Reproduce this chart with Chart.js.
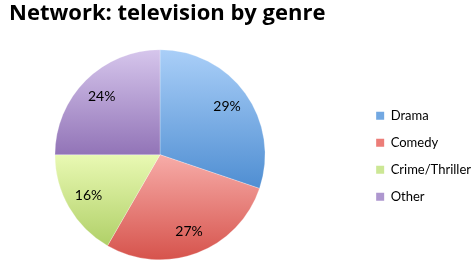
<!DOCTYPE html>
<html>
<head>
<meta charset="utf-8">
<script src="https://cdn.jsdelivr.net/npm/chart.js@4.4.1/dist/chart.umd.min.js"></script>
<style>
  html, body { margin: 0; padding: 0; background: #fff; }
  #wrap { width: 476px; height: 272px; position: relative; }
</style>
</head>
<body>
<div id="wrap"><canvas id="genreChart" width="476" height="272"></canvas></div>
<script>
// data
var genres = ['Drama', 'Comedy', 'Crime/Thriller', 'Other'];
var shares = [29, 27, 16, 24];
var lightColors = ['#aacff8', '#f7aca8', '#e9f9b3', '#d6c6ec'];
var darkColors = ['#4f8ed2', '#d6534c', '#b0d068', '#9274b7'];
var swatchColors = ['#72a8e2', '#ec7d78', '#cce795', '#ae97cf'];

var FONT = 'Lato, "Liberation Sans", sans-serif';

// vertical gradient for each slice, from the top to the bottom of the slice
function sliceGradient(ctx) {
    var chart = ctx.chart;
    var area = chart.chartArea;
    var i = ctx.dataIndex;
    if (!area) return swatchColors[i];
    var total = shares.reduce(function (a, b) { return a + b; }, 0);
    var before = 0;
    for (var k = 0; k < i; k++) before += shares[k];
    var a0 = before / total * Math.PI * 2, a1 = (before + shares[i]) / total * Math.PI * 2;
    // y = -cos(angle) measured from top, clockwise; slice also holds centre
    var ys = [0, -Math.cos(a0), -Math.cos(a1)];
    if (a0 <= Math.PI && a1 >= Math.PI) ys.push(1);
    var yMin = Math.min.apply(null, ys), yMax = Math.max.apply(null, ys);
    var r = Math.min(area.right - area.left, area.bottom - area.top) / 2;
    var cy = (area.top + area.bottom) / 2;
    var g = chart.ctx.createLinearGradient(0, cy + yMin * r, 0, cy + yMax * r);
    g.addColorStop(0, lightColors[i]);
    g.addColorStop(1, darkColors[i]);
    return g;
}

// keep the pie in the left part, leave white space before the legend
var pieArea = {
    id: 'pieArea',
    afterLayout: function (chart) {
        var ca = chart.chartArea;
        var h = ca.bottom - ca.top;
        var cx = 160;
        ca.left = cx - h / 2;
        ca.right = cx + h / 2;
        ca.width = ca.right - ca.left;
    }
};

// percentage text inside each slice
var pctLabels = {
    id: 'pctLabels',
    afterDatasetsDraw: function (chart) {
        var ctx = chart.ctx;
        var meta = chart.getDatasetMeta(0);
        ctx.save();
        ctx.font = '14px ' + FONT;
        ctx.fillStyle = '#000';
        ctx.textAlign = 'center';
        ctx.textBaseline = 'middle';
        meta.data.forEach(function (arc, i) {
            var p = arc.getProps(['x', 'y', 'startAngle', 'endAngle', 'outerRadius'], true);
            var mid = (p.startAngle + p.endAngle) / 2;
            var d = p.outerRadius * 0.785;
            ctx.fillText(shares[i] + '%', p.x + Math.cos(mid) * d, p.y + Math.sin(mid) * d);
        });
        ctx.restore();
    }
};

var ctx = document.getElementById('genreChart');
var genreChart = new Chart(ctx, {
    type: 'pie',
    data: {
        labels: genres,
        datasets: [{
            data: shares,
            backgroundColor: sliceGradient,
            borderColor: 'rgba(255,255,255,0.5)',
            borderWidth: 0.5
        }]
    },
    options: {
        responsive: false,
        animation: false,
        layout: { padding: { left: 9, right: -5, top: 0, bottom: 12 } },
        plugins: {
            title: {
                display: true,
                text: 'Network: television by genre',
                align: 'start',
                color: '#000',
                font: { family: '"Open Sans", Lato, sans-serif', size: 22, weight: 'bold', lineHeight: 1.2 },
                padding: { top: 1, bottom: 22 }
            },
            legend: {
                position: 'right',
                // empty title only pushes the entries down to the middle
                title: { display: true, text: '', padding: 19 },
                labels: {
                    color: '#000',
                    font: { family: FONT, size: 13 },
                    boxWidth: 8,
                    boxHeight: 8,
                    padding: 14,
                    generateLabels: function (chart) {
                        return genres.map(function (g, i) {
                            return {
                                text: g,
                                fillStyle: swatchColors[i],
                                strokeStyle: swatchColors[i],
                                fontColor: '#000',
                                lineWidth: 0,
                                index: i,
                                hidden: false
                            };
                        });
                    }
                }
            },
            tooltip: { enabled: false }
        }
    },
    plugins: [pieArea, pctLabels]
});
</script>
</body>
</html>
